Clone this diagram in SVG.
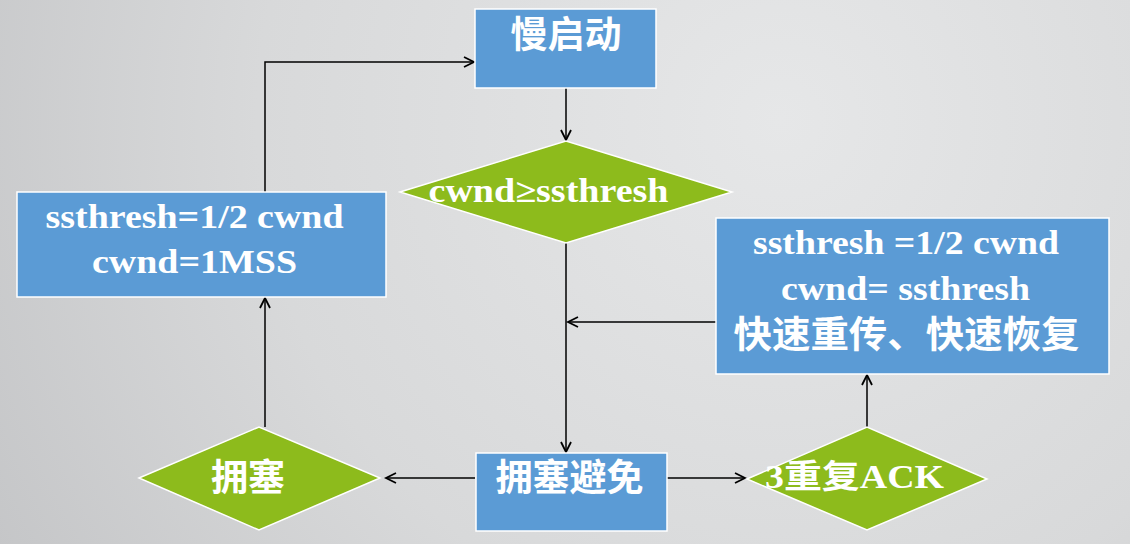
<svg xmlns="http://www.w3.org/2000/svg" width="1130" height="544" viewBox="0 0 1130 544">
<defs>
<radialGradient id="bg" cx="780" cy="120" r="950" gradientUnits="userSpaceOnUse">
<stop offset="0" stop-color="#e6e7e8"/>
<stop offset="0.55" stop-color="#d8d9da"/>
<stop offset="1" stop-color="#c2c3c5"/>
</radialGradient>
<marker id="arr" markerUnits="userSpaceOnUse" markerWidth="14" markerHeight="14" refX="11" refY="6" orient="auto" viewBox="0 0 14 12">
<path d="M1,1 L11,6 L1,11" fill="none" stroke="#000" stroke-width="1.8"/>
</marker>
<style>
.box{fill:#5b9bd5;stroke:#fff;stroke-width:1.5}
.dia{fill:#8dbb1c;stroke:#fff;stroke-width:1.5}
.lat{font-family:"Liberation Serif","Noto Sans CJK SC",serif;font-weight:bold;font-size:33px;fill:#fff;text-anchor:middle}
.cjk{font-family:"Noto Sans CJK SC","Noto Sans",sans-serif;font-weight:bold;font-size:37px;fill:#fff;text-anchor:middle}
.con{fill:none;stroke:#000;stroke-width:1.5;marker-end:url(#arr)}
</style>
</defs>
<rect width="1130" height="544" fill="url(#bg)"/>
<g id="connectors">
<polyline class="con" points="265,192 265,62 474,62"/>
<line class="con" x1="566" y1="88" x2="566" y2="140"/>
<line class="con" x1="566" y1="243" x2="566" y2="452"/>
<line class="con" x1="716" y1="322" x2="568" y2="322"/>
<line class="con" x1="475" y1="478" x2="386" y2="478"/>
<line class="con" x1="657" y1="478" x2="745" y2="478"/>
<line class="con" x1="867" y1="427" x2="867" y2="375"/>
<line class="con" x1="265" y1="427" x2="265" y2="298"/>
</g>
<g id="slow-start">
<rect class="box" x="475" y="9" width="181" height="79"/>
<text class="cjk" x="566" y="48" font-size="38">慢启动</text>
</g>
<g id="cond">
<polygon class="dia" points="400,192 566,141 732,192 566,243"/>
<text class="lat" x="548.5" y="202" textLength="240" lengthAdjust="spacingAndGlyphs">cwnd≥ssthresh</text>
</g>
<g id="timeout-action">
<rect class="box" x="17" y="192" width="369" height="105"/>
<text class="lat" x="194.5" y="228" textLength="298" lengthAdjust="spacingAndGlyphs">ssthresh=1/2 cwnd</text>
<text class="lat" x="194.5" y="273" textLength="205" lengthAdjust="spacingAndGlyphs">cwnd=1MSS</text>
</g>
<g id="fast-recovery">
<rect class="box" x="716" y="218" width="393" height="156"/>
<text class="lat" x="906" y="254" textLength="306" lengthAdjust="spacingAndGlyphs">ssthresh =1/2 cwnd</text>
<text class="lat" x="905.5" y="300" font-size="32" textLength="249" lengthAdjust="spacingAndGlyphs">cwnd= ssthresh</text>
<text class="cjk" x="906.5" y="348" font-size="36" textLength="346" lengthAdjust="spacingAndGlyphs">快速重传、快速恢复</text>
</g>
<g id="congestion">
<polygon class="dia" points="139,478 259,427 380,478 259,530"/>
<text class="cjk" x="248" y="491">拥塞</text>
</g>
<g id="congestion-avoidance">
<rect class="box" x="476" y="453" width="191" height="78"/>
<text class="cjk" x="569.5" y="491">拥塞避免</text>
</g>
<g id="dup-ack">
<polygon class="dia" points="747,479 867,427 987,479 867,530"/>
<text class="lat" x="854.5" y="488" textLength="179" lengthAdjust="spacingAndGlyphs">3重复ACK</text>
</g>
</svg>
